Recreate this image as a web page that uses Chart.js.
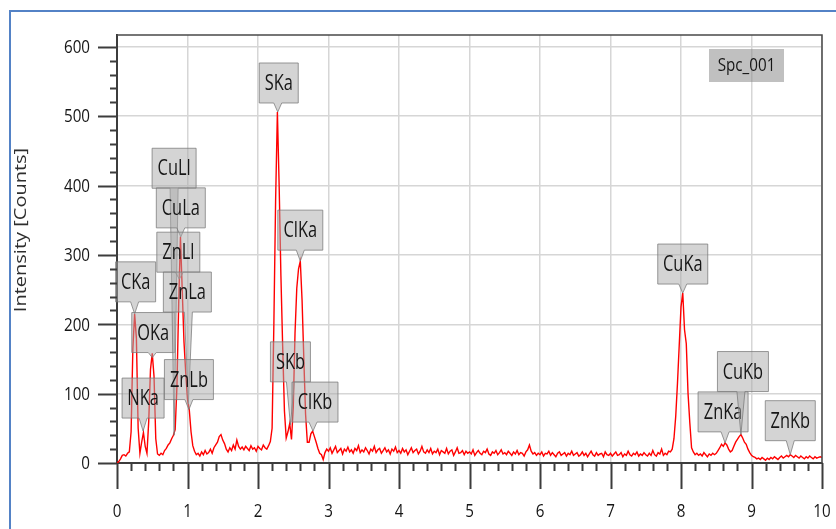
<!DOCTYPE html>
<html lang="en">
<head>
<meta charset="utf-8">
<title>Spc_001</title>
<script src="https://cdn.jsdelivr.net/npm/chart.js@4"></script>
<style>
    html, body { margin: 0; padding: 0; background: #fff; overflow: hidden; }
    #frame { position: absolute; left: 9px; top: 10px; width: 1000px; height: 1000px; border: 2px solid #5382c6; }
    #wrap { position: absolute; left: 0; top: 0; width: 836px; height: 529px; }
</style>
</head>
<body>
<div id="frame"></div>
<div id="wrap"><canvas id="spectrumChart" width="836" height="529"></canvas></div>
<script>
    // EDS spectrum, one value per 0.025 keV channel
    const CHANNEL_KEV = 0.025;

    // 0 - 2.975 keV
    const countsLow = [
        0, 2, 6, 11, 12, 10, 14, 16, 45, 165, 215, 180, 50, 14, 30, 44, 24, 14, 60, 135,
        158, 125, 35, 13, 11, 14, 12, 18, 21, 26, 29, 35, 40, 48, 110, 230, 326, 250, 175, 130,
        92, 77, 45, 25, 17, 12, 14, 10, 16, 12, 18, 13, 15, 20, 14, 22, 26, 30, 38, 41,
        33, 28, 20, 16, 22, 18, 26, 20, 33, 24, 20, 23, 19, 24, 21, 18, 25, 20, 22, 17,
        24, 21, 19, 26, 22, 20, 25, 31, 50, 200, 380, 506, 400, 270, 168, 75, 36, 45, 57, 34,
        80, 187, 252, 280, 291, 235, 150, 70, 30, 30, 42, 46, 38, 30, 21, 14, 12, 5, 15, 20
    ];
    // 3 - 7.475 keV
    const countsMid = [
        17, 22, 14, 19, 24, 15, 18, 21, 13, 20, 17, 23, 16, 19, 14, 21, 18, 25, 15, 19,
        16, 22, 18, 13, 20, 17, 24, 15, 19, 21, 14, 18, 22, 16, 19, 13, 20, 17, 23, 15,
        18, 14, 21, 16, 19, 12, 17, 22, 15, 18, 20, 13, 17, 24, 16, 14, 19, 15, 21, 13,
        17, 15, 20, 12, 18, 16, 14, 21, 13, 17, 19, 11, 16, 22, 14, 15, 18, 12, 17, 14,
        16, 13, 19, 11, 15, 18, 14, 12, 17, 15, 20, 13, 11, 16, 14, 18, 12, 15, 19, 13,
        15, 12, 17, 14, 11, 16, 13, 18, 12, 15, 14, 10, 16, 19, 26, 17, 13, 15, 11, 14,
        12, 16, 10, 14, 13, 17, 11, 15, 12, 9, 14, 16, 11, 13, 15, 10, 14, 12, 17, 11,
        13, 15, 10, 12, 16, 11, 14, 9, 13, 17, 12, 10, 15, 11, 13, 14, 9, 16, 12, 11,
        14, 10, 13, 16, 11, 12, 15, 9, 13, 11, 17, 12, 10, 14, 12, 16, 10, 13, 11, 15
    ];
    // 7.5 - 10 keV
    const countsHigh = [
        12, 10, 14, 11, 18, 12, 10, 15, 13, 20, 11, 14, 12, 17, 16, 20, 35, 67, 115, 170,
        225, 245, 192, 172, 100, 58, 22, 16, 12, 14, 11, 13, 10, 15, 12, 9, 13, 11, 14, 12,
        14, 18, 22, 27, 24, 29, 26, 20, 16, 18, 24, 30, 34, 38, 41, 36, 30, 27, 20, 15,
        11, 9, 8, 6, 7, 5, 8, 6, 4, 7, 5, 8, 6, 9, 7, 5, 8, 10, 7, 9,
        11, 9, 12, 10, 8, 11, 9, 7, 10, 8, 6, 9, 7, 10, 8, 6, 9, 7, 8, 9,
        8
    ];
    const counts = countsLow.concat(countsMid, countsHigh);

    const xTicks = [0, 1, 2, 3, 4, 5, 6, 7, 8, 9, 10];
    const yTicks = [0, 100, 200, 300, 400, 500, 600];

    // peak identification: line name, energy (keV), counts at arrow tip
    const peakNames  = ['CKa', 'NKa', 'OKa', 'CuLl', 'CuLa', 'ZnLl', 'ZnLa', 'ZnLb', 'SKa', 'SKb', 'ClKa', 'ClKb', 'CuKa', 'ZnKa', 'CuKb', 'ZnKb'];
    const peakKeV    = [0.25, 0.37, 0.50, 0.81, 0.905, 0.884, 1.012, 1.02, 2.28, 2.46, 2.60, 2.78, 8.025, 8.625, 8.85, 9.55];
    const peakCounts = [215, 46, 152, 40, 326, 265, 85, 77, 506, 55, 291, 46, 245, 29, 41, 12];
    // callout box placement relative to the tip: [dx, lift] in px
    const peakBoxOffset = [
        [1, 12], [0, 13], [1, 5], [0, 247], [0, 9], [-1, 7], [-1, 92], [0, 10],
        [1, 9], [0, 43], [0, 11], [2, 9], [0, 9], [-2, 11], [2, 43], [0, 14]
    ];

    const FONT = '"Open Sans", "Noto Sans", sans-serif';

    function squeezedText(ctx, text, x, y, align, sx) {
        ctx.save();
        ctx.translate(x, y);
        ctx.scale(sx, 1);
        ctx.textAlign = align;
        ctx.textBaseline = 'middle';
        ctx.fillText(text, 0, 0);
        ctx.restore();
    }

    const spectrumDecor = {
        id: 'spectrumDecor',
        afterDatasetsDraw(chart) {
            const { ctx, scales: { x, y } } = chart;
            ctx.save();
            peakNames.forEach((name, i) => {
                const tx = x.getPixelForValue(peakKeV[i]);
                const ty = y.getPixelForValue(peakCounts[i]);
                const [dx, lift] = peakBoxOffset[i];
                ctx.font = `21px ${FONT}`;
                const w = Math.round(ctx.measureText(name).width * 0.78 + 11);
                const h = 40;
                const cx = tx + dx;
                const bottom = ty - lift;
                const top = bottom - h;
                const left = cx - w / 2;
                const right = cx + w / 2;
                const hw = 4;
                const baseX = Math.min(Math.max(tx, left + hw + 1), right - hw - 1);

                ctx.beginPath();
                ctx.moveTo(left, top);
                ctx.lineTo(right, top);
                ctx.lineTo(right, bottom);
                ctx.lineTo(baseX + hw, bottom);
                ctx.lineTo(tx, ty);
                ctx.lineTo(baseX - hw, bottom);
                ctx.lineTo(left, bottom);
                ctx.closePath();
                ctx.fillStyle = 'rgba(170, 170, 170, 0.5)';
                ctx.fill();
                ctx.strokeStyle = 'rgba(120, 120, 120, 0.75)';
                ctx.lineWidth = 1;
                ctx.stroke();

                ctx.fillStyle = '#161616';
                squeezedText(ctx, name, cx, (top + bottom) / 2 + 1, 'center', 0.78);
            });

            // spectrum name tag
            const a = chart.chartArea;
            const sx = a.right - 113, sy = a.top + 14;
            ctx.fillStyle = 'rgba(140, 140, 140, 0.55)';
            ctx.fillRect(sx, sy, 75, 33);
            ctx.fillStyle = '#161616';
            ctx.font = `19px ${FONT}`;
            squeezedText(ctx, 'Spc_001', sx + 37.5, sy + 17, 'center', 0.8);
            ctx.restore();
        },
        afterDraw(chart) {
            const { ctx, chartArea: a, scales: { x, y } } = chart;
            ctx.save();

            // top and right frame
            ctx.strokeStyle = '#4a4a4a';
            ctx.lineWidth = 1.5;
            ctx.beginPath();
            ctx.moveTo(a.left, a.top);
            ctx.lineTo(a.right, a.top);
            ctx.lineTo(a.right, a.bottom);
            ctx.stroke();

            // tick marks: majors every label, minors every 0.2 keV / 20 counts
            ctx.strokeStyle = '#3c3c3c';
            ctx.lineWidth = 2;
            ctx.beginPath();
            for (let i = 0; i <= 50; i++) {
                const px = Math.round(x.getPixelForValue(i * 0.2)) + 0.5;
                ctx.moveTo(px, a.bottom);
                ctx.lineTo(px, a.bottom + (i % 5 === 0 ? 26 : 8));
            }
            for (let i = 0; i <= 30; i++) {
                const py = Math.round(y.getPixelForValue(i * 20)) + 0.5;
                ctx.moveTo(a.left, py);
                ctx.lineTo(a.left - (i % 5 === 0 ? 19 : 7), py);
            }
            ctx.stroke();

            // tick labels
            ctx.fillStyle = '#161616';
            ctx.font = `18.5px ${FONT}`;
            xTicks.forEach(v => squeezedText(ctx, String(v), x.getPixelForValue(v), 512, 'center', 0.82));
            yTicks.forEach(v => squeezedText(ctx, String(v), 90, y.getPixelForValue(v) + 1, 'right', 0.82));

            // axis title
            ctx.save();
            ctx.translate(21, 230);
            ctx.rotate(-Math.PI / 2);
            ctx.scale(1, 0.8);
            ctx.font = `20px ${FONT}`;
            ctx.fillStyle = '#2e2e2e';
            ctx.textAlign = 'center';
            ctx.textBaseline = 'middle';
            ctx.fillText('Intensity [Counts]', 0, 0);
            ctx.restore();

            ctx.restore();
        }
    };

    new Chart(document.getElementById('spectrumChart'), {
        type: 'line',
        data: {
            datasets: [{
                data: counts.map((c, i) => ({ x: i * CHANNEL_KEV, y: c })),
                borderColor: '#ff0000',
                borderWidth: 1.4,
                pointRadius: 0,
                tension: 0,
                fill: false
            }]
        },
        options: {
            responsive: false,
            animation: false,
            devicePixelRatio: 1,
            layout: { padding: { top: 35, right: 14, left: 0, bottom: 0 } },
            plugins: { legend: { display: false }, tooltip: { enabled: false } },
            scales: {
                x: {
                    type: 'linear',
                    min: 0,
                    max: 10,
                    afterBuildTicks: s => { s.ticks = xTicks.map(v => ({ value: v })); },
                    afterFit: s => { s.height = 66; },
                    ticks: { display: false },
                    grid: { color: '#d6d6d6', lineWidth: 1.5, drawTicks: false },
                    border: { color: '#3c3c3c', width: 2 }
                },
                y: {
                    min: 0,
                    max: 617,
                    afterBuildTicks: s => { s.ticks = yTicks.map(v => ({ value: v })); },
                    afterFit: s => { s.width = 117; },
                    ticks: { display: false },
                    grid: { color: '#d6d6d6', lineWidth: 1.5, drawTicks: false },
                    border: { color: '#3c3c3c', width: 2 }
                }
            }
        },
        plugins: [spectrumDecor]
    });
</script>
</body>
</html>
